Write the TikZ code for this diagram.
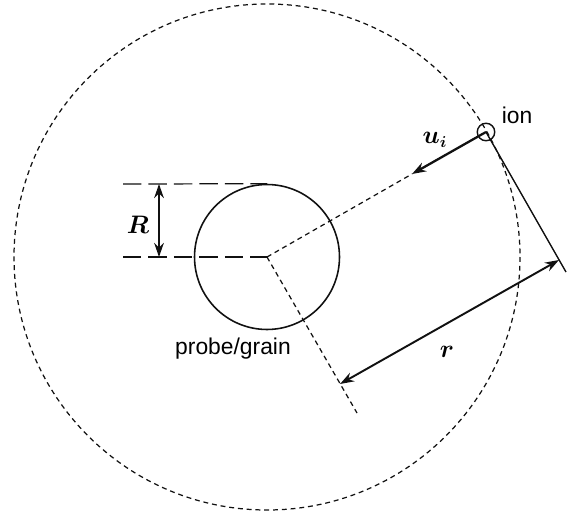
\documentclass[tikz,border=0pt]{standalone}
\usepackage{fontspec}
\setmainfont{Liberation Sans}
\usetikzlibrary{arrows.meta}
\definecolor{line-color}{HTML}{111111}
\tikzset{
  probe-node/.style={draw=line-color, circle, line width=0.9pt, minimum size=2.9cm, inner sep=0pt},
  ion-node/.style={draw=line-color, circle, line width=0.8pt, minimum size=0.35cm, inner sep=0pt},
  label-text/.style={font=\fontsize{13}{15}\selectfont, inner sep=0pt},
  math-text/.style={font=\fontsize{13.5}{15}\selectfont\boldmath, inner sep=0pt},
  short-dash/.style={draw=line-color, line width=0.7pt, dash pattern=on 2.8pt off 2.2pt},
  long-dash/.style={draw=line-color, line width=0.7pt, dash pattern=on 10.5pt off 4pt},
  solid-line/.style={draw=line-color, line width=0.8pt},
  dim-arrow/.style={{Stealth[length=8pt, width=5.5pt]}-{Stealth[length=8pt, width=5.5pt]}, draw=line-color, line width=1.1pt},
  vel-arrow/.style={-{Stealth[length=8pt, width=5.5pt]}, draw=line-color, line width=1.3pt}
}

\begin{document}
\begin{tikzpicture}[x=0.02cm, y=-0.02cm]
  \useasboundingbox (0,0) rectangle (567,513);

  \coordinate (centre)      at (267,257);
  \coordinate (top-left)    at (123,184);
  \coordinate (bottom-left) at (123,257);
  \coordinate (R-top)       at (159,184);
  \coordinate (R-bottom)    at (159,257);
  \coordinate (ui-tip)      at (412,174);
  \coordinate (perp-end)    at (357,413);
  \coordinate (ion-tail)    at (566,272);
  \coordinate (r-start)     at (340,384);
  \coordinate (r-end)       at (559,260);

  % sphere of influence
  \draw[short-dash] (centre) circle[radius=253];

  \node[probe-node] (probe) at (centre) {};
  \node[ion-node]   (ion)   at (486,132) {};

  \draw[long-dash] (top-left) -- (probe.north);
  \draw[long-dash] (bottom-left) -- (centre);
  \draw[dim-arrow] (R-top) -- (R-bottom);

  \draw[short-dash] (centre) -- (ui-tip);
  \draw[short-dash] (centre) -- (perp-end);
  \draw[vel-arrow]  (ion.center) -- (ui-tip);
  \draw[solid-line] (ion.center) -- (ion-tail);
  \draw[dim-arrow]  (r-start) -- (r-end);

  \node[math-text]  (R-label)     at (138,225) {$R$};
  \node[math-text]  (ui-label)    at (435,140) {$u_i$};
  \node[math-text]  (r-label)     at (447,352) {$r$};
  \node[label-text] (ion-label)   at (517,115) {ion};
  \node[label-text] (probe-label) at (233,349) {probe/grain};
\end{tikzpicture}
\end{document}
